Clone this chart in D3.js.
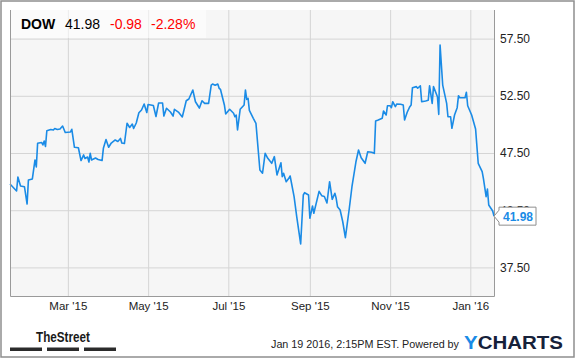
<!DOCTYPE html>
<html>
<head>
<meta charset="utf-8">
<style>
  body { margin: 0; background: #fff; }
  svg { display: block; font-family: "Liberation Sans", Arial, sans-serif; }
</style>
<script src="https://cdn.jsdelivr.net/npm/d3@7"></script>
</head>
<body>
<div id="app"></div>
<script>
const container = document.querySelector('#app');

// chart size and plot box
const width = 575;
const height = 358;
const marginTop = 10;
const marginRight = 81;
const marginBottom = 62;
const marginLeft = 10;

// header values
const ticker = "DOW";
const lastPrice = "41.98";
const change = "-0.98";
const changePct = "-2.28%";

// tick labels
const yTicks = [37.5, 42.5, 47.5, 52.5, 57.5];
const xTicks = ["2015-03-01", "2015-05-01", "2015-07-01", "2015-09-01", "2015-11-01", "2016-01-01"];

// price series
const dates = [
  "2015-01-16","2015-01-21","2015-01-22","2015-01-24","2015-01-27","2015-01-29","2015-01-30","2015-02-02","2015-02-04","2015-02-05",
  "2015-02-06","2015-02-09","2015-02-10","2015-02-11","2015-02-12","2015-02-13","2015-02-16","2015-02-18","2015-02-19","2015-02-21",
  "2015-02-23","2015-02-25","2015-02-27","2015-03-03","2015-03-04","2015-03-06","2015-03-09","2015-03-11","2015-03-13","2015-03-14",
  "2015-03-16","2015-03-17","2015-03-18","2015-03-19","2015-03-22","2015-03-24","2015-03-27","2015-03-28","2015-03-30","2015-04-01",
  "2015-04-03","2015-04-06","2015-04-08","2015-04-10","2015-04-11","2015-04-13","2015-04-15","2015-04-17","2015-04-19","2015-04-20",
  "2015-04-22","2015-04-24","2015-04-26","2015-04-28","2015-04-30","2015-05-01","2015-05-05","2015-05-07","2015-05-09","2015-05-12",
  "2015-05-13","2015-05-15","2015-05-18","2015-05-20","2015-05-21","2015-05-24","2015-05-27","2015-05-30","2015-06-01","2015-06-04",
  "2015-06-06","2015-06-09","2015-06-11","2015-06-13","2015-06-16","2015-06-18","2015-06-19","2015-06-21","2015-06-23","2015-06-24",
  "2015-06-25","2015-06-28","2015-06-29","2015-07-02","2015-07-05","2015-07-06","2015-07-07","2015-07-08","2015-07-10","2015-07-13",
  "2015-07-14","2015-07-15","2015-07-16","2015-07-17","2015-07-20","2015-07-22","2015-07-25","2015-07-27","2015-07-29","2015-07-31",
  "2015-08-03","2015-08-05","2015-08-07","2015-08-10","2015-08-11","2015-08-12","2015-08-14","2015-08-16","2015-08-17","2015-08-20",
  "2015-08-22","2015-08-25","2015-08-27","2015-08-28","2015-08-31","2015-09-01","2015-09-03","2015-09-04","2015-09-08","2015-09-10",
  "2015-09-12","2015-09-14","2015-09-16","2015-09-18","2015-09-20","2015-09-21","2015-09-22","2015-09-24","2015-09-26","2015-09-28",
  "2015-10-01","2015-10-03","2015-10-06","2015-10-08","2015-10-10","2015-10-13","2015-10-15","2015-10-18","2015-10-20","2015-10-21",
  "2015-10-23","2015-10-26","2015-10-27","2015-10-29","2015-10-30","2015-11-01","2015-11-02","2015-11-03","2015-11-05","2015-11-06",
  "2015-11-09","2015-11-11","2015-11-12","2015-11-14","2015-11-16","2015-11-17","2015-11-18","2015-11-21","2015-11-22","2015-11-24",
  "2015-11-25","2015-11-28","2015-11-30","2015-12-01","2015-12-03","2015-12-04","2015-12-07","2015-12-08","2015-12-09","2015-12-11",
  "2015-12-14","2015-12-15","2015-12-17","2015-12-18","2015-12-20","2015-12-22","2015-12-23","2015-12-24","2015-12-28","2015-12-29",
  "2015-12-30","2016-01-02","2016-01-05","2016-01-07","2016-01-10","2016-01-11","2016-01-13","2016-01-14","2016-01-15","2016-01-18",
  "2016-01-19"
];
const prices = [
  44.79,44.18,45.40,44.62,44.55,43.04,45.14,45.23,46.89,46.28,
  48.35,48.42,48.20,48.55,48.07,49.45,49.55,49.51,49.64,49.55,
  49.60,49.86,49.29,49.34,49.57,48.00,47.96,46.84,47.33,47.02,
  47.15,46.71,47.47,46.89,47.06,46.93,46.84,47.91,48.68,48.00,
  48.37,48.64,48.51,48.77,48.37,48.33,50.10,49.73,50.03,49.64,
  50.12,51.02,51.26,51.78,51.04,51.74,51.65,50.69,51.87,51.87,
  50.73,51.41,51.08,50.73,51.32,51.08,50.65,52.07,52.22,53.01,
  51.98,51.43,52.07,51.84,51.84,53.44,53.53,53.42,53.53,53.16,
  53.07,51.70,50.91,51.32,50.97,50.67,50.82,49.51,51.32,51.70,
  53.01,52.19,52.28,51.22,50.53,50.10,46.01,45.73,47.47,47.04,
  46.60,47.18,45.58,46.65,45.43,45.73,44.99,45.29,45.49,43.68,
  41.93,39.55,43.83,44.03,43.83,41.79,42.87,42.23,44.15,43.77,
  43.70,43.13,44.99,43.45,43.98,43.54,42.81,42.52,41.49,40.10,
  42.67,44.55,46.71,47.76,47.09,46.60,47.61,47.56,47.47,50.30,
  50.38,50.53,51.17,50.82,51.63,51.63,51.46,51.98,51.55,51.78,
  51.76,51.70,50.38,51.06,51.55,51.70,53.21,53.30,53.16,53.38,
  51.98,52.05,52.11,53.38,51.84,53.30,52.42,50.88,56.94,53.44,
  51.84,50.67,50.67,49.66,50.82,51.46,52.51,52.33,52.33,52.81,
  51.63,50.82,49.60,46.60,45.87,45.23,43.68,44.35,42.95,42.43,
  41.98
];

const parse = d3.utcParse("%Y-%m-%d");
const data = dates.map((d, i) => ({ date: parse(d), value: prices[i] }));

const x = d3.scaleUtc()
    .domain([parse("2015-01-16"), parse("2016-01-19")])
    .range([marginLeft, width - marginRight]);

const y = d3.scaleLinear()
    .domain([35, 60])
    .range([height - marginBottom, marginTop]);

const svg = d3.create("svg")
    .attr("width", width)
    .attr("height", height);

// outer frame
svg.append("rect")
    .attr("x", 1).attr("y", 1)
    .attr("width", width - 2).attr("height", height - 2)
    .attr("fill", "#fff")
    .attr("stroke", "#8e8e8e")
    .attr("stroke-width", 1.5);

// plot background
svg.append("rect")
    .attr("x", marginLeft).attr("y", marginTop)
    .attr("width", width - marginLeft - marginRight)
    .attr("height", height - marginTop - marginBottom)
    .attr("fill", "#f6f6f6");

// grid lines
const plotW = width - marginLeft - marginRight;
const plotH = height - marginTop - marginBottom;

svg.append("g")
    .attr("transform", `translate(${marginLeft},0)`)
    .call(d3.axisLeft(y).tickValues(yTicks).tickSize(-plotW).tickFormat(""))
    .call(g => g.select(".domain").remove())
    .call(g => g.selectAll("line").attr("stroke", "#d5d5d5"));

svg.append("g")
    .attr("transform", `translate(0,${height - marginBottom})`)
    .call(d3.axisBottom(x).tickValues(xTicks.map(parse)).tickSize(-plotH).tickFormat(""))
    .call(g => g.select(".domain").remove())
    .call(g => g.selectAll("line").attr("stroke", "#d5d5d5"));

// header box
const header = svg.append("g");
header.append("rect")
    .attr("x", marginLeft).attr("y", marginTop)
    .attr("width", 196).attr("height", 28)
    .attr("fill", "#fff")
    .attr("fill-opacity", 0.55);
header.append("text")
    .attr("x", 21).attr("y", 28.5)
    .attr("font-size", 14).attr("font-weight", "bold")
    .attr("fill", "#000")
    .text(ticker);
header.append("text")
    .attr("x", 65).attr("y", 28.5)
    .attr("font-size", 14)
    .attr("fill", "#000")
    .text(lastPrice);
header.append("text")
    .attr("x", 110).attr("y", 28.5)
    .attr("font-size", 14)
    .attr("fill", "#f00")
    .text(change);
header.append("text")
    .attr("x", 151).attr("y", 28.5)
    .attr("font-size", 14)
    .attr("fill", "#f00")
    .text(changePct);

// price line
const line = d3.line()
  .x(d => x(d.date))
  .y(d => y(d.value))
  .curve(d3.curveLinear);

svg.append("path")
  .datum(data)
  .attr("fill", "none")
  .attr("stroke", "#1a8be6")
  .attr("stroke-width", 1.6)
  .attr("stroke-linejoin", "round")
  .attr("d", line);

// plot border (left, bottom, right)
svg.append("path")
    .attr("fill", "none")
    .attr("stroke", "#9a9a9a")
    .attr("d", `M${marginLeft + 0.5},${marginTop}V${height - marginBottom + 0.5}H${width - marginRight + 0.5}V${marginTop}`);

// right axis labels
svg.append("g")
    .attr("transform", `translate(${width - marginRight},0)`)
    .call(d3.axisRight(y).tickValues(yTicks).tickSize(0).tickPadding(6).tickFormat(d3.format(".2f")))
    .call(g => g.select(".domain").remove())
    .call(g => g.selectAll("text")
        .attr("font-family", "Liberation Sans, Arial, sans-serif")
        .attr("font-size", 12)
        .attr("fill", "#222"));

// bottom axis labels
svg.append("g")
    .attr("transform", `translate(0,${height - marginBottom})`)
    .call(d3.axisBottom(x).tickValues(xTicks.map(parse)).tickSize(0).tickPadding(6).tickFormat(d3.utcFormat("%b '%y")))
    .call(g => g.select(".domain").remove())
    .call(g => g.selectAll("text")
        .attr("font-family", "Liberation Sans, Arial, sans-serif")
        .attr("font-size", 11.5)
        .attr("fill", "#222"));

// last value flag
const last = data[data.length - 1];
const ly = y(last.value);
const lx = width - marginRight;
svg.append("path")
    .attr("fill", "#fff")
    .attr("stroke", "#8e8e8e")
    .attr("d", `M${lx},${ly}L${lx + 5},${ly - 6}V${ly - 9}H${lx + 42}V${ly + 9}H${lx + 5}V${ly + 6}Z`);
svg.append("text")
    .attr("x", lx + 9).attr("y", ly + 4.5)
    .attr("font-size", 12).attr("font-weight", "bold")
    .attr("fill", "#1a8be6")
    .text(d3.format(".2f")(last.value));

// footer: TheStreet logo
svg.append("text")
    .attr("x", 36).attr("y", 341.5)
    .attr("font-family", "Liberation Sans Narrow, Arial Narrow, sans-serif")
    .attr("font-size", 15.5).attr("font-weight", "bold")
    .attr("textLength", 54).attr("lengthAdjust", "spacingAndGlyphs")
    .attr("fill", "#1a1a1a")
    .text("TheStreet");
[10, 47, 84].forEach(bx => {
  svg.append("rect")
      .attr("x", bx).attr("y", 347.5)
      .attr("width", 32).attr("height", 3.5)
      .attr("fill", "#2b2b2b");
});

// footer: timestamp and YCharts logo
svg.append("text")
    .attr("x", 271).attr("y", 348)
    .attr("font-size", 11)
    .attr("fill", "#222")
    .attr("textLength", 188).attr("lengthAdjust", "spacingAndGlyphs")
    .text("Jan 19 2016, 2:15PM EST.  Powered by");
const yc = svg.append("text")
    .attr("x", 464).attr("y", 348.5)
    .attr("font-size", 18).attr("font-weight", "bold")
    .attr("textLength", 99).attr("lengthAdjust", "spacingAndGlyphs");
yc.append("tspan").attr("fill", "#1a8be6").text("Y");
yc.append("tspan").attr("fill", "#16213a").text("CHARTS");

container.append(svg.node());
</script>
</body>
</html>
